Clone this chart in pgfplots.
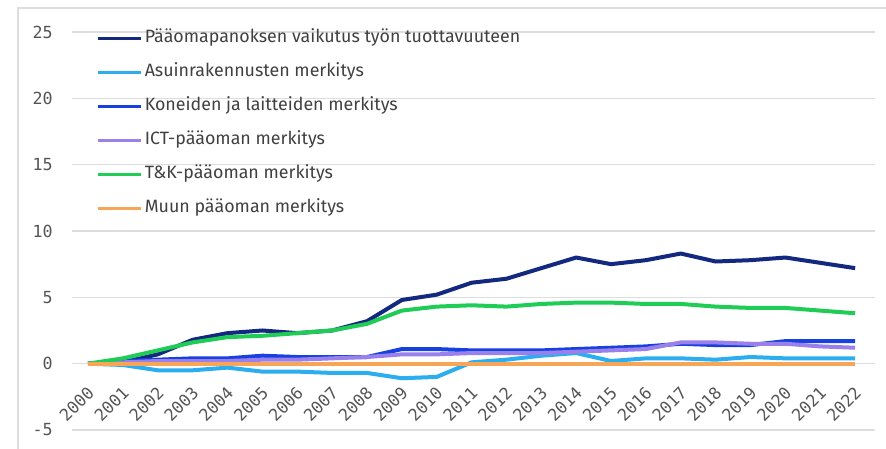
\documentclass[border=0pt]{standalone}
\usepackage{fontspec}
\setmainfont{Fira Sans}
\newfontfamily\tickfont{DejaVu Sans Mono}
\usepackage{pgfplots}
\pgfplotsset{compat=1.18}
\usepackage{pgfplotstable}
\usetikzlibrary{calc}

\definecolor{cTotal}{HTML}{13287F}
\definecolor{cAsuin}{HTML}{2AAEF0}
\definecolor{cKone}{HTML}{1640E0}
\definecolor{cICT}{HTML}{9A80EA}
\definecolor{cTK}{HTML}{1FCC55}
\definecolor{cMuu}{HTML}{F7A556}
\definecolor{cGrid}{HTML}{DDDDDD}
\definecolor{cTick}{HTML}{555555}

\pgfplotstableread{
year total asuin kone ict tk muu
2000 0.0  0.0  0.0 0.0 0.0 0.0
2001 0.1 -0.1  0.2 0.1 0.4 0.0
2002 0.7 -0.5  0.3 0.2 1.0 0.0
2003 1.8 -0.5  0.4 0.2 1.6 0.0
2004 2.3 -0.3  0.4 0.2 2.0 0.0
2005 2.5 -0.6  0.6 0.3 2.1 0.0
2006 2.3 -0.6  0.5 0.3 2.3 0.0
2007 2.5 -0.7  0.5 0.4 2.5 0.0
2008 3.2 -0.7  0.5 0.5 3.0 0.0
2009 4.8 -1.1  1.1 0.7 4.0 0.0
2010 5.2 -1.0  1.1 0.7 4.3 0.0
2011 6.1  0.1  1.0 0.8 4.4 0.0
2012 6.4  0.3  1.0 0.8 4.3 0.0
2013 7.2  0.6  1.0 0.8 4.5 0.0
2014 8.0  0.8  1.1 0.9 4.6 0.0
2015 7.5  0.2  1.2 1.0 4.6 0.0
2016 7.8  0.4  1.3 1.1 4.5 0.0
2017 8.3  0.4  1.5 1.6 4.5 0.0
2018 7.7  0.3  1.4 1.6 4.3 0.0
2019 7.8  0.5  1.4 1.5 4.2 0.0
2020 8.0  0.4  1.7 1.5 4.2 0.0
2021 7.6  0.4  1.7 1.3 4.0 0.0
2022 7.2  0.4  1.7 1.2 3.8 0.0
}\data

\begin{document}
\begin{tikzpicture}
\begin{axis}[
    name=ax,
    scale only axis,
    width=481.8pt,
    height=238.8pt,
    xmin=1999.54, xmax=2022.57,
    ymin=-5, ymax=25,
    xtick={2000,2001,...,2022},
    ytick={-5,0,...,25},
    axis x line*=middle,
    axis y line*=left,
    axis line style={draw=none},
    major tick length=0pt,
    ymajorgrids,
    grid style={draw=cGrid, line width=0.7pt},
    /pgf/number format/assume math mode=true,
    x tick label style={/pgf/number format/1000 sep={}},
    xticklabel style={yshift=-8pt, xshift=-1pt, rotate=45, anchor=north east, font=\tickfont\fontsize{10}{12}\selectfont, text=cTick},
    yticklabel style={font=\tickfont\fontsize{10}{12}\selectfont, text=cTick, xshift=-8pt},
    every axis plot/.append style={line width=2.4pt, line join=round},
    legend cell align=left,
    legend image code/.code={\draw[#1, line width=2pt] (0pt,0pt) -- (26pt,0pt);},
    legend style={
        at={(0.030,1.009)}, anchor=north west,
        draw=none, fill=none, inner sep=0pt,
        font=\fontsize{10.7}{12}\selectfont, text=black!75,
        row sep=8.4pt,
        nodes={inner sep=1pt, text height=7.5pt, text depth=2.5pt},
    },
    clip=false,
]
\addplot[cTotal] table[x=year, y=total] {\data};
\addlegendentry{Pääomapanoksen vaikutus työn tuottavuuteen}
\addplot[cAsuin] table[x=year, y=asuin] {\data};
\addlegendentry{Asuinrakennusten merkitys}
\addplot[cKone] table[x=year, y=kone] {\data};
\addlegendentry{Koneiden ja laitteiden merkitys}
\addplot[cICT] table[x=year, y=ict] {\data};
\addlegendentry{ICT-pääoman merkitys}
\addplot[cTK] table[x=year, y=tk] {\data};
\addlegendentry{T\&K-pääoman merkitys}
\addplot[cMuu] table[x=year, y=muu] {\data};
\addlegendentry{Muun pääoman merkitys}
\end{axis}
\draw[cGrid, line width=0.7pt] ($(ax.south west)+(-32.4pt,-11.4pt)$) |- ($(ax.north east)+(6.6pt,14.4pt)$);
\pgfresetboundingbox
\path[use as bounding box] ($(ax.south west)+(-43.2pt,-11.4pt)$) rectangle ($(ax.north east)+(6.6pt,19.2pt)$);
\end{tikzpicture}
\end{document}
